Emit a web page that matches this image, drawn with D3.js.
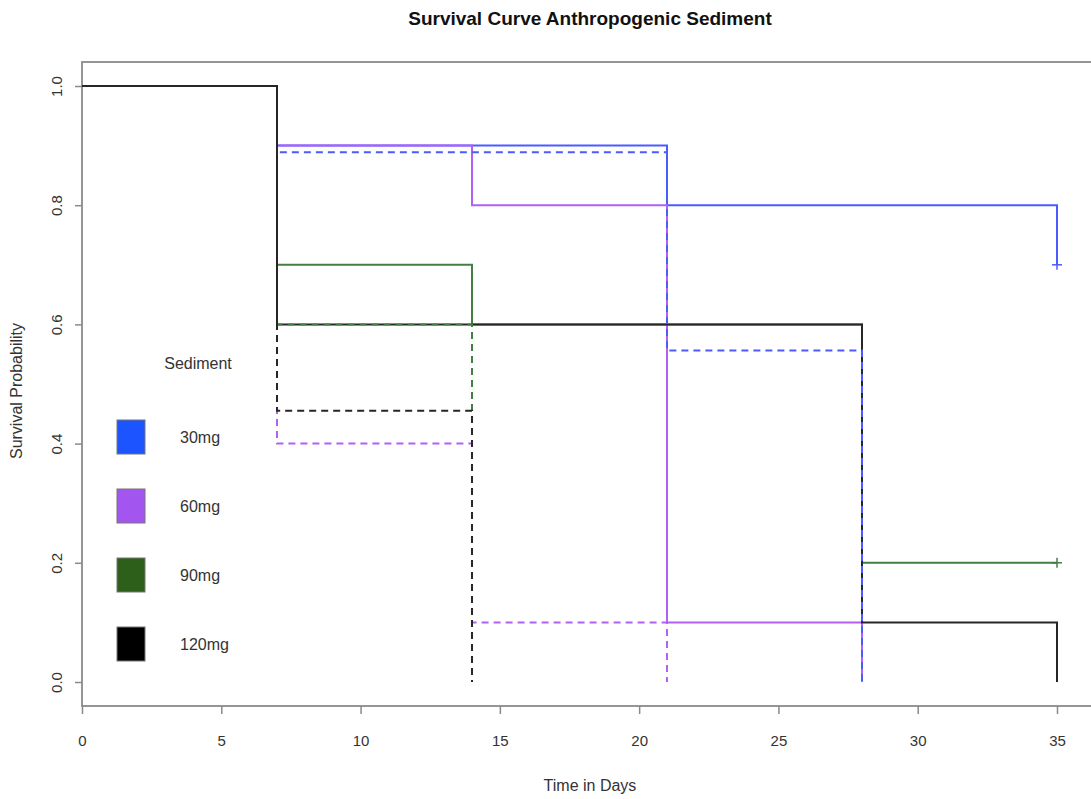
<!DOCTYPE html>
<html>
<head>
<meta charset="utf-8">
<script src="https://cdn.jsdelivr.net/npm/d3@7"></script>
<style>
  body { margin: 0; background: #fff; }
  svg { display: block; font-family: "Liberation Sans", Arial, sans-serif; }
</style>
</head>
<body>
<svg id="chart"></svg>
<script>
// Chart data
const sediments = ["30mg", "60mg", "90mg", "120mg"];
const legendColors = ["#1c55ff", "#a355ef", "#2d5f1b", "#000000"];
const lineColors = ["#4b5cff", "#b160f5", "#437f43", "#262626"];

// solid curves (time of step, survival after step)
const solidTimes = [
  [0, 7, 21, 35],
  [0, 7, 14, 21, 28],
  [0, 7, 14, 28, 35],
  [0, 7, 28, 35]
];
const solidSurv = [
  [1, 0.9, 0.8, 0.7],
  [1, 0.9, 0.8, 0.1, 0],
  [1, 0.7, 0.6, 0.2, 0.2],
  [1, 0.6, 0.1, 0]
];
// dashed curves
const dashedTimes = [
  [0, 7, 21, 28],
  [0, 7, 14, 21],
  [0, 7, 14],
  [0, 7, 14]
];
const dashedSurv = [
  [1, 0.889, 0.556, 0],
  [1, 0.4, 0.1, 0],
  [1, 0.6, 0],
  [1, 0.455, 0]
];
// censored points: [series index, time, survival]
const censored = [[0, 35, 0.7], [2, 35, 0.2]];

const xTicks = [0, 5, 10, 15, 20, 25, 30, 35];
const yTicks = [0, 0.2, 0.4, 0.6, 0.8, 1.0];

const W = 1091, H = 799;
const svg = d3.select("#chart").attr("width", W).attr("height", H);

const x = d3.scaleLinear().domain([0, 35]).range([82, 1057]);
const y = d3.scaleLinear().domain([0, 1]).range([682, 86]);

// plot box (right side runs off the image)
svg.append("rect")
  .attr("x", 82).attr("y", 62)
  .attr("width", 1040).attr("height", 644)
  .attr("fill", "none").attr("stroke", "#8a8a8a").attr("stroke-width", 1.8);

// x axis
const xAxis = svg.append("g").attr("transform", "translate(0,706)")
  .call(d3.axisBottom(x).tickValues(xTicks).tickSize(8).tickPadding(21).tickFormat(d3.format("d")));
xAxis.select(".domain").remove();
xAxis.selectAll("line").attr("stroke", "#8a8a8a").attr("stroke-width", 1.5);
xAxis.selectAll("text").attr("font-size", 15).attr("fill", "#333");

// y axis
const yAxis = svg.append("g").attr("transform", "translate(82,0)")
  .call(d3.axisLeft(y).tickValues(yTicks).tickSize(7).tickFormat(d3.format(".1f")));
yAxis.select(".domain").remove();
yAxis.selectAll("line").attr("stroke", "#8a8a8a").attr("stroke-width", 1.5);
yAxis.selectAll(".tick text")
  .attr("font-size", 15).attr("fill", "#333")
  .attr("text-anchor", "middle")
  .attr("x", 0).attr("y", 0).attr("dy", 0)
  .attr("transform", "translate(-20,0) rotate(-90)");

// titles
svg.append("text").attr("x", 590).attr("y", 25)
  .attr("text-anchor", "middle").attr("font-size", 19).attr("font-weight", "bold")
  .attr("fill", "#111").text("Survival Curve Anthropogenic Sediment");
svg.append("text").attr("x", 590).attr("y", 791)
  .attr("text-anchor", "middle").attr("font-size", 16).attr("fill", "#333")
  .text("Time in Days");
svg.append("text").attr("transform", "translate(22,391) rotate(-90)")
  .attr("text-anchor", "middle").attr("font-size", 16).attr("fill", "#333")
  .text("Survival Probability");

// step curves
const line = d3.line().x(d => x(d[0])).y(d => y(d[1])).curve(d3.curveStepAfter);
const curves = svg.append("g").attr("fill", "none").attr("stroke-width", 2);

solidTimes.forEach((ts, i) => {
  curves.append("path")
    .attr("d", line(ts.map((t, j) => [t, solidSurv[i][j]])))
    .attr("stroke", lineColors[i]);
});
dashedTimes.forEach((ts, i) => {
  curves.append("path")
    .attr("d", line(ts.map((t, j) => [t, dashedSurv[i][j]])))
    .attr("stroke", lineColors[i])
    .attr("stroke-dasharray", "7,5");
});

// censor marks
censored.forEach(([i, t, s]) => {
  const g = svg.append("g").attr("stroke", lineColors[i]).attr("stroke-width", 1.5);
  g.append("line").attr("x1", x(t) - 5).attr("x2", x(t) + 5).attr("y1", y(s)).attr("y2", y(s));
  g.append("line").attr("x1", x(t)).attr("x2", x(t)).attr("y1", y(s) - 5).attr("y2", y(s) + 5);
});

// legend
const legend = svg.append("g");
legend.append("text").attr("x", 198).attr("y", 369)
  .attr("text-anchor", "middle").attr("font-size", 16).attr("fill", "#333").text("Sediment");
const legendY = d3.scalePoint().domain(sediments).range([437, 644]);
sediments.forEach((s, i) => {
  legend.append("rect")
    .attr("x", 117).attr("y", legendY(s) - 17)
    .attr("width", 28).attr("height", 34)
    .attr("fill", legendColors[i]).attr("stroke", "#777").attr("stroke-width", 1);
  legend.append("text")
    .attr("x", 180).attr("y", legendY(s) + 6)
    .attr("font-size", 16).attr("fill", "#333").text(s);
});
</script>
</body>
</html>
